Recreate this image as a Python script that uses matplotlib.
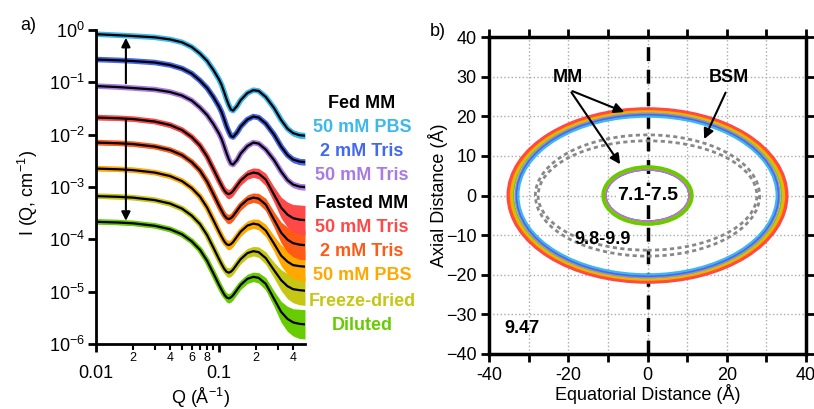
import numpy as np
import matplotlib
matplotlib.use("Agg")
import matplotlib.pyplot as plt
from matplotlib.patches import Ellipse
from matplotlib.ticker import FixedLocator, FixedFormatter, NullLocator, LogLocator, LogFormatterSciNotation

plt.rcParams['font.family'] = ['Liberation Sans', 'DejaVu Sans']
plt.rcParams['mathtext.fontset'] = 'custom'
plt.rcParams['mathtext.rm'] = 'Liberation Sans'
plt.rcParams['mathtext.it'] = 'Liberation Sans:italic'
plt.rcParams['mathtext.bf'] = 'Liberation Sans:bold'

# ---- panel a: SAXS curves, log10 I(Q) ----
q = [0.01, 0.015, 0.02, 0.03, 0.04, 0.05, 0.06, 0.07, 0.08, 0.09, 0.10, 0.105,
     0.11, 0.115, 0.12, 0.125, 0.13, 0.14, 0.15, 0.17, 0.19, 0.21, 0.24, 0.28,
     0.32, 0.36, 0.40, 0.45, 0.50]

log_fed_pbs = [-0.08, -0.10, -0.115, -0.14, -0.18, -0.235, -0.325, -0.45, -0.59, -0.765,
               -0.945, -1.05, -1.185, -1.32, -1.435, -1.52, -1.54, -1.455, -1.34, -1.205,
               -1.15, -1.165, -1.28, -1.49, -1.72, -1.885, -1.97, -2.01, -2.02]
log_fed_tris2 = [-0.564, -0.579, -0.593, -0.621, -0.669, -0.736, -0.832, -0.966, -1.109, -1.281,
                 -1.463, -1.568, -1.702, -1.836, -1.941, -2.027, -2.046, -1.96, -1.845, -1.711,
                 -1.654, -1.673, -1.788, -1.998, -2.228, -2.39, -2.476, -2.514, -2.524]
log_fed_tris50 = [-1.071, -1.09, -1.109, -1.138, -1.185, -1.252, -1.348, -1.482, -1.625, -1.797,
                  -1.979, -2.084, -2.218, -2.352, -2.467, -2.553, -2.572, -2.486, -2.361, -2.218,
                  -2.151, -2.17, -2.285, -2.486, -2.706, -2.868, -2.954, -2.992, -3.002]
log_fast_tris50 = [-1.673, -1.686, -1.702, -1.749, -1.816, -1.912, -2.046, -2.208, -2.419, -2.658,
                   -2.878, -2.973, -3.059, -3.117, -3.136, -3.117, -3.078, -2.973, -2.878, -2.763,
                   -2.725, -2.744, -2.858, -3.145, -3.394, -3.528, -3.595, -3.623, -3.633]
log_fast_tris2 = [-2.151, -2.164, -2.18, -2.227, -2.294, -2.39, -2.524, -2.686, -2.897, -3.136,
                  -3.356, -3.451, -3.537, -3.595, -3.614, -3.595, -3.556, -3.451, -3.356, -3.241,
                  -3.203, -3.222, -3.336, -3.623, -3.872, -4.006, -4.073, -4.101, -4.111]
log_fast_pbs = [-2.648, -2.661, -2.677, -2.724, -2.791, -2.887, -3.021, -3.183, -3.394, -3.633,
                -3.853, -3.948, -4.034, -4.092, -4.111, -4.092, -4.053, -3.948, -3.853, -3.738,
                -3.70, -3.719, -3.833, -4.082, -4.311, -4.426, -4.493, -4.512, -4.522]
log_freeze = [-3.174, -3.187, -3.203, -3.25, -3.317, -3.413, -3.547, -3.709, -3.92, -4.159,
              -4.379, -4.474, -4.56, -4.618, -4.637, -4.618, -4.579, -4.474, -4.379, -4.264,
              -4.226, -4.245, -4.359, -4.589, -4.78, -4.895, -4.952, -4.971, -4.981]
log_diluted = [-3.665, -3.678, -3.694, -3.741, -3.808, -3.904, -4.038, -4.2, -4.411, -4.65,
               -4.87, -4.965, -5.051, -5.109, -5.128, -5.109, -5.07, -4.965, -4.87, -4.755,
               -4.717, -4.736, -4.85, -5.137, -5.386, -5.52, -5.587, -5.615, -5.625]

# half width of the noisy data band (decades)
fed_spread = [0.02, 0.02, 0.02, 0.02, 0.02, 0.02, 0.02, 0.02, 0.02, 0.02, 0.03, 0.03, 0.03, 0.03,
              0.03, 0.03, 0.03, 0.03, 0.03, 0.03, 0.03, 0.03, 0.03, 0.04, 0.05, 0.06, 0.06, 0.06, 0.06]
fasted_spread = [0.04, 0.04, 0.04, 0.04, 0.05, 0.05, 0.05, 0.06, 0.06, 0.07, 0.08, 0.08, 0.08, 0.09,
                 0.09, 0.09, 0.09, 0.09, 0.09, 0.09, 0.09, 0.10, 0.12, 0.15, 0.20, 0.24, 0.26, 0.28, 0.28]

labels = ['50 mM PBS', '2 mM Tris', '50 mM Tris', '50 mM Tris', '2 mM Tris', '50 mM PBS',
          'Freeze-dried', 'Diluted']
colors = ['#3cb8ec', '#4468ee', '#a87ae4', '#ff4848', '#ff5a16', '#ffa800', '#c6c614', '#66cc00']
curves = [log_fed_pbs, log_fed_tris2, log_fed_tris50, log_fast_tris50, log_fast_tris2,
          log_fast_pbs, log_freeze, log_diluted]
spreads = [fed_spread] * 3 + [fasted_spread] * 5

# ---- panel b: ellipsoid cross sections (Å) ----
shell_a = [32.6, 33.0, 33.3, 35.3, 35.0, 34.6, 34.2, 33.9]
shell_b = [19.9, 20.3, 20.6, 22.0, 21.8, 21.5, 21.2, 21.0]
core_a = [10.5, 10.5, 10.5, 10.9, 10.9, 10.9, 11.0, 11.2]
core_b = [6.5, 6.5, 6.5, 6.9, 6.9, 6.9, 7.0, 7.2]
bsm_a = [28.3, 27.6]
bsm_b = [15.3, 13.8]

fig = plt.figure(figsize=(8.14, 4.09), dpi=100)

# ---------------- panel a ----------------
ax = fig.add_axes([96 / 814, 65 / 409, 209 / 814, 314 / 409])
qa = np.array(q)
for i in reversed(range(len(curves))):
    li = np.array(curves[i])
    sp = np.array(spreads[i])
    ax.fill_between(qa, 10 ** (li - sp), 10 ** (li + sp), color=colors[i], lw=0, zorder=2)
    ax.plot(qa, 10 ** li, color=colors[i], lw=4, zorder=2)
for i in range(len(curves)):
    ax.plot(qa, 10 ** np.array(curves[i]), color='black', lw=1.6, zorder=4)

ax.set_xscale('log')
ax.set_yscale('log')
ax.set_xlim(0.01, 0.5)
ax.set_ylim(1e-6, 1.0)
ax.spines['top'].set_visible(False)
ax.spines['right'].set_visible(False)
ax.spines['left'].set_linewidth(2)
ax.spines['bottom'].set_linewidth(2)

ax.xaxis.set_major_locator(FixedLocator([0.01, 0.1]))
ax.xaxis.set_major_formatter(FixedFormatter(['0.01', '0.1']))
ax.xaxis.set_minor_locator(FixedLocator([0.02, 0.03, 0.04, 0.05, 0.06, 0.07, 0.08, 0.09, 0.2, 0.3, 0.4]))
ax.xaxis.set_minor_formatter(FixedFormatter(['2', '', '4', '', '6', '', '8', '', '2', '', '4']))
ax.yaxis.set_major_locator(LogLocator(base=10, numticks=10))
ax.yaxis.set_major_formatter(LogFormatterSciNotation())
ax.yaxis.set_minor_locator(NullLocator())
ax.tick_params(axis='x', which='major', direction='out', length=6, width=2, labelsize=13, pad=9)
ax.tick_params(axis='x', which='minor', direction='out', length=4, width=1.5, labelsize=9, pad=2)
ax.tick_params(axis='y', which='major', direction='out', length=6, width=2, labelsize=13, pad=2)

ax.set_xlabel('Q (Å$^{-1}$)', fontsize=13)
ax.xaxis.set_label_coords(0.5, -0.135)
ax.set_ylabel('I (Q, cm$^{-1}$)', fontsize=13)
ax.yaxis.set_label_coords(-0.27, 0.48)

ax.annotate('', xy=(0.0175, 0.80), xytext=(0.0175, 0.085),
            arrowprops=dict(arrowstyle='-|>', color='black', lw=1.5, mutation_scale=13), zorder=5)
ax.annotate('', xy=(0.0175, 2.0e-4), xytext=(0.0175, 0.0218),
            arrowprops=dict(arrowstyle='-|>', color='black', lw=1.5, mutation_scale=13), zorder=5)

# legend-like colored labels
legend_y = [127, 152, 176, 228, 252, 276, 301, 325]
fig.text(362 / 814, 1 - 103 / 409, 'Fed MM', ha='center', va='center', fontsize=13,
         fontweight='bold', color='black')
fig.text(362 / 814, 1 - 203 / 409, 'Fasted MM', ha='center', va='center', fontsize=13,
         fontweight='bold', color='black')
for lab, col, yy in zip(labels, colors, legend_y):
    fig.text(362 / 814, 1 - yy / 409, lab, ha='center', va='center', fontsize=13,
             fontweight='bold', color=col)

fig.text(28 / 814, 1 - 25 / 409, 'a)', ha='center', va='center', fontsize=13)
fig.text(438 / 814, 1 - 32 / 409, 'b)', ha='center', va='center', fontsize=13)

# ---------------- panel b ----------------
bx = fig.add_axes([489 / 814, 55 / 409, 317 / 814, 317 / 409])
bx.set_xlim(-40, 40)
bx.set_ylim(-40, 40)
bx.grid(True, color='#aaaaaa', ls=':', lw=1)
bx.set_axisbelow(True)

bx.axvline(0, color='black', lw=2.5, ls=(0, (4, 2.5)), zorder=2)

for a, b in zip(bsm_a, bsm_b):
    bx.add_patch(Ellipse((0, 0), 2 * a, 2 * b, fill=False, ec='#888888', lw=2,
                         ls=(0, (1.5, 1.2)), zorder=3))
for i in reversed(range(len(shell_a))):
    bx.add_patch(Ellipse((0, 0), 2 * shell_a[i], 2 * shell_b[i], fill=False,
                         ec=colors[i], lw=1.6, zorder=3))
for i in range(len(core_a)):
    bx.add_patch(Ellipse((0, 0), 2 * core_a[i], 2 * core_b[i], fill=False,
                         ec=colors[i], lw=2.6 if i == 7 else 1.3, zorder=3))

bx.xaxis.set_major_locator(FixedLocator([-40, -30, -20, -10, 0, 10, 20, 30, 40]))
bx.xaxis.set_major_formatter(FixedFormatter(['-40', '', '-20', '', '0', '', '20', '', '40']))
bx.yaxis.set_major_locator(FixedLocator([-40, -30, -20, -10, 0, 10, 20, 30, 40]))
bx.tick_params(which='major', direction='out', length=6, width=2, labelsize=13,
               top=True, right=True, pad=3)
for s in bx.spines.values():
    s.set_linewidth(2.5)
bx.set_xlabel('Equatorial Distance (Å)', fontsize=13)
bx.xaxis.set_label_coords(0.5, -0.095)
bx.set_ylabel('Axial Distance (Å)', fontsize=13)
bx.yaxis.set_label_coords(-0.13, 0.5)

arrow_kw = dict(arrowstyle='-|>', color='black', lw=1.5, mutation_scale=15)
bx.text(-20, 29.8, 'MM', ha='center', va='center', fontsize=13, fontweight='bold', zorder=6)
bx.text(20.6, 29.8, 'BSM', ha='center', va='center', fontsize=13, fontweight='bold', zorder=6)
bx.annotate('', xy=(-5.2, 20.8), xytext=(-19.6, 26.6), arrowprops=arrow_kw, zorder=6)
bx.annotate('', xy=(-6.5, 7.3), xytext=(-19.6, 26.6), arrowprops=arrow_kw, zorder=6)
bx.annotate('', xy=(14, 13.6), xytext=(20, 26.6), arrowprops=arrow_kw, zorder=6)
bx.text(0, 0, '7.1-7.5', ha='center', va='center', fontsize=14, fontweight='bold', zorder=6,
        bbox=dict(facecolor='white', edgecolor='none', pad=1))
bx.text(-11.3, -11.2, '9.8-9.9', ha='center', va='center', fontsize=13, fontweight='bold', zorder=6)
bx.text(-31.8, -33.5, '9.47', ha='center', va='center', fontsize=13, fontweight='bold', zorder=6)

fig.savefig('out.png', dpi=100)
